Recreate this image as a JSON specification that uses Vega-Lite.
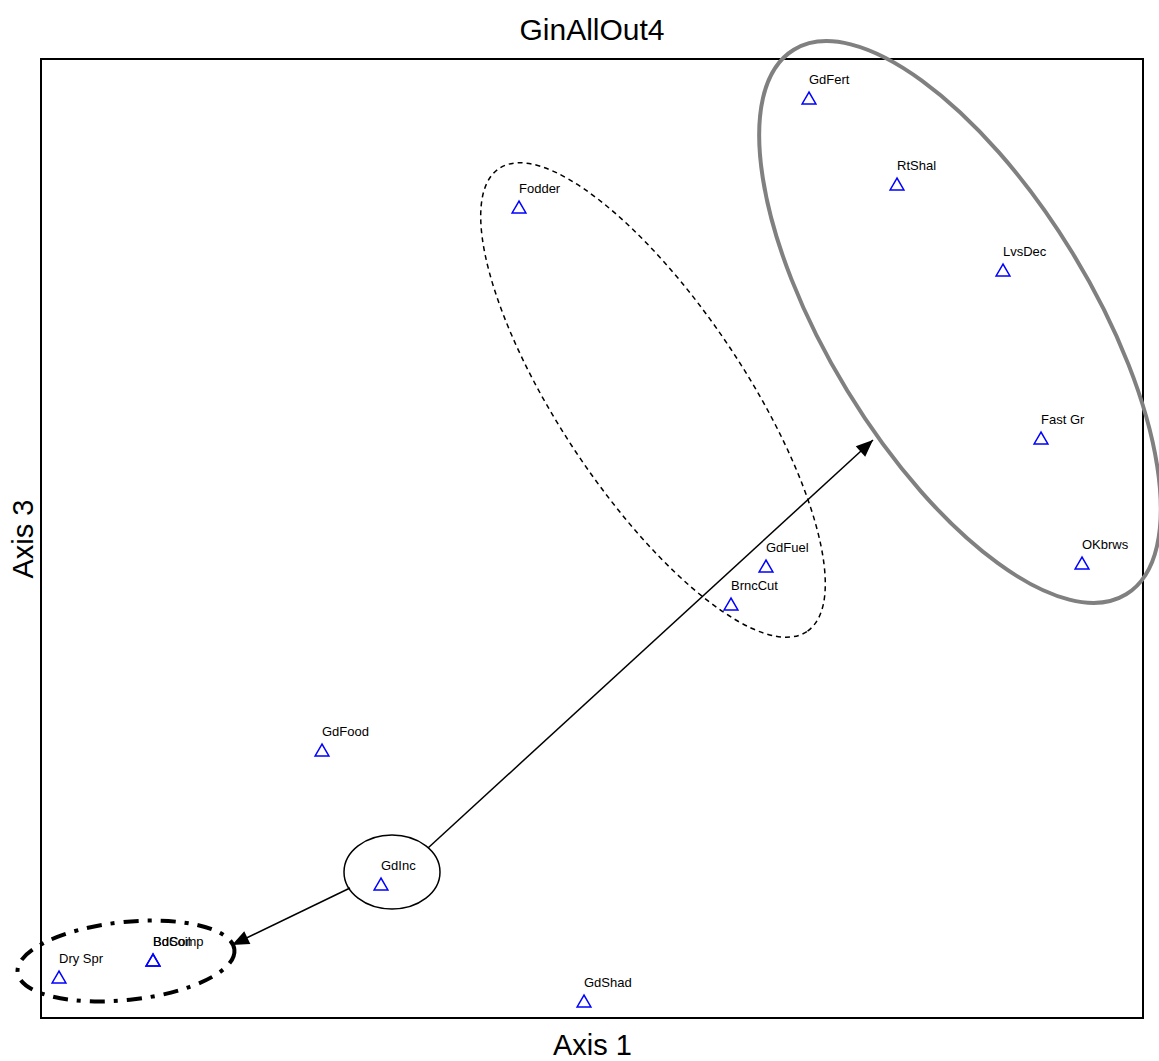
{
  "$schema": "https://vega.github.io/schema/vega-lite/v6.json",
  "autosize": "none",
  "width": 1102,
  "height": 959,
  "padding": {"left": 41, "top": 59, "right": 16, "bottom": 43},
  "background": "white",
  "config": {
    "view": {"stroke": "black", "strokeWidth": 2},
    "font": "Liberation Sans"
  },
  "title": {
    "text": "GinAllOut4",
    "fontSize": 30,
    "fontWeight": "normal",
    "font": "Liberation Sans",
    "color": "black",
    "offset": -13,
    "frame": "group",
    "anchor": "middle"
  },
  "datasets": {
    "pts": [
      {"name": "GdFert", "a1": 76.8, "a3": 92.0},
      {"name": "RtShal", "a1": 85.6, "a3": 83.4},
      {"name": "Fodder", "a1": 47.8, "a3": 81.1},
      {"name": "LvsDec", "a1": 96.2, "a3": 74.8},
      {"name": "Fast Gr", "a1": 100.0, "a3": 58.0},
      {"name": "OKbrws", "a1": 104.1, "a3": 45.5},
      {"name": "GdFuel", "a1": 72.5, "a3": 45.2},
      {"name": "BrncCut", "a1": 69.0, "a3": 41.4},
      {"name": "GdFood", "a1": 28.1, "a3": 26.8},
      {"name": "GdInc", "a1": 34.0, "a3": 13.4},
      {"name": "BdSoil", "a1": 11.2, "a3": 5.8},
      {"name": "BdComp", "a1": 11.2, "a3": 5.8},
      {"name": "Dry Spr", "a1": 1.8, "a3": 4.1},
      {"name": "GdShad", "a1": 54.3, "a3": 1.7}
    ],
    "ell": [
      {"id": "gray", "cx": 91.9, "cy": 69.6},
      {"id": "dashed", "cx": 61.2, "cy": 61.8},
      {"id": "small", "cx": 35.1, "cy": 14.6},
      {"id": "dashdot", "cx": 8.5, "cy": 5.7}
    ],
    "arr": [
      {"id": "up", "x0": 38.7, "y0": 17.0, "x1": 83.2, "y1": 57.8},
      {"id": "down", "x0": 30.9, "y0": 13.0, "x1": 19.1, "y1": 7.3}
    ]
  },
  "layer": [
    {
      "data": {"name": "ell"},
      "transform": [{"filter": "datum.id === 'gray'"}],
      "mark": {"type": "point", "shape": "M319,0C319,72.9,176.2,132,0,132C-176.2,132,-319,72.9,-319,0C-319,-72.9,-176.2,-132,0,-132C176.2,-132,319,-72.9,319,0Z", "size": 4, "angle": 58.6, "filled": false, "stroke": "#808080", "color": "#808080", "strokeWidth": 4, "opacity": 1},
      "encoding": {
        "x": {"field": "cx", "type": "quantitative", "scale": {"domain": [0, 110.2], "nice": false, "zero": false}, "axis": {"title": "Axis 1", "labels": false, "ticks": false, "domain": false, "grid": false, "titleFontSize": 29, "titleFontWeight": "normal", "titleFont": "Liberation Sans", "titleColor": "black", "titlePadding": 13}},
        "y": {"field": "cy", "type": "quantitative", "scale": {"domain": [0, 95.9], "nice": false, "zero": false}, "axis": {"title": "Axis 3", "labels": false, "ticks": false, "domain": false, "grid": false, "titleFontSize": 29, "titleFontWeight": "normal", "titleFont": "Liberation Sans", "titleColor": "black", "titlePadding": 3}}
      }
    },
    {
      "data": {"name": "ell"},
      "transform": [{"filter": "datum.id === 'dashed'"}],
      "mark": {"type": "point", "shape": "M278,0C278,51.4,153.5,93,0,93C-153.5,93,-278,51.4,-278,0C-278,-51.4,-153.5,-93,0,-93C153.5,-93,278,-51.4,278,0Z", "size": 4, "angle": 56.4, "filled": false, "stroke": "black", "color": "black", "strokeWidth": 1.5, "strokeDash": [5, 4], "opacity": 1},
      "encoding": {
        "x": {"field": "cx", "type": "quantitative"},
        "y": {"field": "cy", "type": "quantitative"}
      }
    },
    {
      "data": {"name": "ell"},
      "transform": [{"filter": "datum.id === 'small'"}],
      "mark": {"type": "point", "shape": "M48,0C48,20.4,26.5,37,0,37C-26.5,37,-48,20.4,-48,0C-48,-20.4,-26.5,-37,0,-37C26.5,-37,48,-20.4,48,0Z", "size": 4, "angle": 0, "filled": false, "stroke": "black", "color": "black", "strokeWidth": 1.5, "opacity": 1},
      "encoding": {
        "x": {"field": "cx", "type": "quantitative"},
        "y": {"field": "cy", "type": "quantitative"}
      }
    },
    {
      "data": {"name": "ell"},
      "transform": [{"filter": "datum.id === 'dashdot'"}],
      "mark": {"type": "point", "shape": "M109,0C109,21.5,60.2,39,0,39C-60.2,39,-109,21.5,-109,0C-109,-21.5,-60.2,-39,0,-39C60.2,-39,109,-21.5,109,0Z", "size": 4, "angle": -6, "filled": false, "stroke": "black", "color": "black", "strokeWidth": 4, "strokeDash": [15, 9, 4, 9], "opacity": 1},
      "encoding": {
        "x": {"field": "cx", "type": "quantitative"},
        "y": {"field": "cy", "type": "quantitative"}
      }
    },
    {
      "data": {"name": "arr"},
      "mark": {"type": "rule", "color": "black", "strokeWidth": 1.5},
      "encoding": {
        "x": {"field": "x0", "type": "quantitative"},
        "y": {"field": "y0", "type": "quantitative"},
        "x2": {"field": "x1"},
        "y2": {"field": "y1"}
      }
    },
    {
      "data": {"name": "arr"},
      "transform": [{"filter": "datum.id === 'up'"}],
      "mark": {"type": "point", "shape": "M0,0L-7,17L7,17Z", "size": 4, "angle": 47.5, "filled": true, "color": "black", "opacity": 1},
      "encoding": {
        "x": {"field": "x1", "type": "quantitative"},
        "y": {"field": "y1", "type": "quantitative"}
      }
    },
    {
      "data": {"name": "arr"},
      "transform": [{"filter": "datum.id === 'down'"}],
      "mark": {"type": "point", "shape": "M0,0L-7,17L7,17Z", "size": 4, "angle": 244.2, "filled": true, "color": "black", "opacity": 1},
      "encoding": {
        "x": {"field": "x1", "type": "quantitative"},
        "y": {"field": "y1", "type": "quantitative"}
      }
    },
    {
      "data": {"name": "pts"},
      "mark": {"type": "point", "shape": "triangle-up", "size": 190, "filled": false, "color": "#0000ff", "strokeWidth": 1.5, "opacity": 1},
      "encoding": {
        "x": {"field": "a1", "type": "quantitative"},
        "y": {"field": "a3", "type": "quantitative"}
      }
    },
    {
      "data": {"name": "pts"},
      "mark": {"type": "text", "align": "left", "baseline": "middle", "dy": -18, "fontSize": 13, "font": "Liberation Sans", "color": "black"},
      "encoding": {
        "x": {"field": "a1", "type": "quantitative"},
        "y": {"field": "a3", "type": "quantitative"},
        "text": {"field": "name"}
      }
    }
  ]
}
